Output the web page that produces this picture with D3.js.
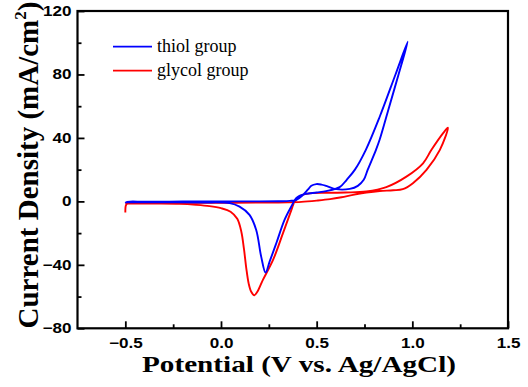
<!DOCTYPE html>
<html><head><meta charset="utf-8">
<script src="https://cdn.jsdelivr.net/npm/d3@7"></script>
<style>body{margin:0;background:#fff}svg{display:block}</style>
</head><body>
<svg id="c" width="528" height="387"></svg>
<script>
// Data (potential V vs Ag/AgCl, current density mA/cm2), scan order
const thiolV = [-0.5,-0.49,-0.4,-0.2,0.0,0.2,0.3,0.36,0.394,0.428,0.455,0.472,0.498,0.525,0.55,0.603,0.673,0.715,0.746,0.767,0.81,0.829,0.88,0.928,0.976,
  0.912,0.83,0.757,0.70,0.657,0.62,0.55,0.5,0.443,0.41,0.393,0.367,0.332,0.289,0.254,0.233,0.21,0.184,0.149,0.097,0.045,-0.1,-0.3,-0.5];
const thiolJ = [-1.0,-0.3,-0.2,-0.1,0,0,0.1,0.3,1,4,7.5,9.8,10.9,10.6,9.8,7.7,7.9,9.8,13.6,20,32.5,38.8,60,80,100.6,
  80,53.5,32.5,20,13.6,9,6.5,5.6,4.7,3.5,2,-3.3,-11.7,-26.4,-38,-44.9,-34.8,-18,-8.5,-3.3,-1.1,-0.7,-0.6,-0.6];
const glycolV = [-0.5,-0.497,-0.49,-0.4,-0.2,0.0,0.2,0.35,0.42,0.5,0.57,0.63,0.69,0.76,0.83,0.9,0.95,1.003,1.074,1.144,1.186,
  1.161,1.1,1.056,0.969,0.864,0.76,0.65,0.55,0.48,0.43,0.411,0.385,0.368,0.324,0.272,0.219,0.19,0.174,0.158,0.145,0.132,0.12,0.106,0.085,0.05,0.0,-0.06,-0.13,-0.217,-0.35,-0.5];
const glycolJ = [-7,-2.5,-1.5,-1.2,-1.0,-0.9,-0.8,-0.6,-0.3,0.5,1.4,2.6,4.1,5.5,6.5,7.0,7.7,11.5,19.9,32.5,46.4,
  43,32.5,24,15.6,9,6.2,5.6,5.4,5.2,4.3,3,0,-5.4,-20,-36.9,-49.5,-57,-59.2,-57,-52,-42,-30,-19,-11,-6.5,-4.3,-3.0,-2.2,-1.6,-1.4,-1.3];
const xTicks = [-0.5,0.0,0.5,1.0,1.5];
const xMinor = [-0.25,0.25,0.75,1.25];
const yTicks = [-80,-40,0,40,80,120];
const yMinor = [-60,-20,20,60,100];
const seriesNames = ["thiol group","glycol group"];
const seriesColors = ["#0000ff","#ff0000"];

const svg = d3.select("#c");
const x = d3.scaleLinear().domain([-0.75,1.5]).range([77.5,508]);
const y = d3.scaleLinear().domain([-80,120]).range([328.3,11]);

// curves
const line = d3.line().x(d=>x(d[0])).y(d=>y(d[1])).curve(d3.curveCatmullRom.alpha(0.5));
const glycol = glycolV.map((v,i)=>[v,glycolJ[i]]);
const thiol = thiolV.map((v,i)=>[v,thiolJ[i]]);
svg.append("path").attr("d",line(glycol)).attr("fill","none").attr("stroke",seriesColors[1]).attr("stroke-width",1.9).attr("stroke-linejoin","round");
svg.append("path").attr("d",line(thiol)).attr("fill","none").attr("stroke",seriesColors[0]).attr("stroke-width",1.9).attr("stroke-linejoin","round");

// axes
const tickFont = "'Liberation Sans', Arial, sans-serif";
const gx = svg.append("g").attr("transform",`translate(0,${y(-80)})`)
  .call(d3.axisBottom(x).tickValues(xTicks).tickFormat(d3.format(".1f")).tickSizeInner(-7).tickSizeOuter(0).tickPadding(10));
const gxm = svg.append("g").attr("transform",`translate(0,${y(-80)})`)
  .call(d3.axisBottom(x).tickValues(xMinor).tickFormat("").tickSizeInner(-4).tickSizeOuter(0));
const gy = svg.append("g").attr("transform",`translate(${x(-0.75)},0)`)
  .call(d3.axisLeft(y).tickValues(yTicks).tickFormat(d3.format("d")).tickSizeInner(-7).tickSizeOuter(0).tickPadding(5));
const gym = svg.append("g").attr("transform",`translate(${x(-0.75)},0)`)
  .call(d3.axisLeft(y).tickValues(yMinor).tickFormat("").tickSizeInner(-4).tickSizeOuter(0));
[gx,gxm,gy,gym].forEach(g=>{
  g.select(".domain").remove();
  g.selectAll(".tick line").attr("stroke","#000").attr("stroke-width",1.8);
  g.selectAll("text").attr("font-family",tickFont).attr("font-weight","bold").attr("font-size",14).attr("fill","#000")
    .attr("transform","scale(1.22,1)");
});

// frame
svg.append("rect").attr("x",x(-0.75)).attr("y",y(120)).attr("width",x(1.5)-x(-0.75)).attr("height",y(-80)-y(120))
  .attr("fill","none").attr("stroke","#000").attr("stroke-width",2.2);

// titles
const titleFont = "'Liberation Serif', 'Times New Roman', serif";
svg.append("text").attr("transform","translate(299,372) scale(1.27,1)").attr("text-anchor","middle")
  .attr("font-family",titleFont).attr("font-weight","bold").attr("font-size",23).attr("fill","#000")
  .text("Potential (V vs. Ag/AgCl)");
const yt = svg.append("text").attr("transform","translate(38,165) rotate(-90)").attr("text-anchor","middle")
  .attr("font-family",titleFont).attr("font-weight","bold").attr("font-size",29).attr("fill","#000");
yt.append("tspan").text("Current Density (mA/cm");
yt.append("tspan").attr("font-size",17).attr("dy",-12).text("2");
yt.append("tspan").attr("dy",12).text(")");

// legend
const legY = [46.7,70.7];
seriesNames.forEach((n,i)=>{
  svg.append("line").attr("x1",113).attr("x2",152).attr("y1",legY[i]).attr("y2",legY[i])
    .attr("stroke",seriesColors[i]).attr("stroke-width",1.8);
  svg.append("text").attr("x",157).attr("y",legY[i]).attr("dy","0.32em")
    .attr("font-family",titleFont).attr("font-size",18).attr("fill","#000").text(n);
});
</script>
</body></html>
